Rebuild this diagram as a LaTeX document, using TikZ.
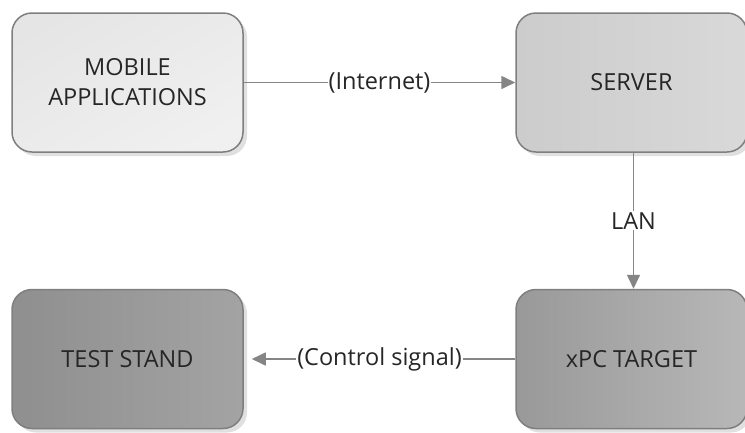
\documentclass[tikz,border=0pt]{standalone}
\usepackage{fontspec}
\setmainfont{Open Sans}
\usetikzlibrary{shadows,arrows.meta}
\definecolor{edgegray}{HTML}{7F7F7F}
\definecolor{linegray}{HTML}{858585}
\definecolor{txt}{HTML}{262626}
\tikzset{
  box/.style={draw=edgegray, line width=1.5pt, rounded corners=20pt,
    minimum width=231pt, minimum height=139pt, align=center,
    font=\fontsize{23.5}{30}\selectfont, text=txt,
    drop shadow={shadow xshift=4pt, shadow yshift=-4pt, fill=black, opacity=0.12}},
  conn/.style={draw=linegray, line width=1.6pt, -{Triangle[length=14pt,width=13pt]}},
  lbl/.style={fill=white, inner sep=1pt, font=\fontsize{23.5}{28}\selectfont, text=txt}
}
\begin{document}
\begin{tikzpicture}[x=1pt,y=1pt]
\useasboundingbox (0,0) rectangle (745,-432);
\node[box, top color=white!90!black, bottom color=white!94!black, shading angle=30] (mob) at (127.5,-82.5) {MOBILE\\APPLICATIONS};
\node[box, left color=white!80!black, right color=white!85!black] (srv) at (631.5,-82.5) {SERVER};
\node[box, left color=white!56!black, right color=white!64!black] (ts) at (127.5,-359) {TEST STAND};
\node[box, left color=white!60!black, right color=white!72!black] (xpc) at (631.5,-359) {xPC TARGET};
\draw[conn] (mob) -- node[lbl]{(Internet)} (srv);
\draw[conn] ([xshift=2pt]srv.south) -- node[lbl]{LAN} ([xshift=2pt]xpc.north);
\draw[conn, shorten >=8pt] (xpc) -- node[lbl]{(Control signal)} (ts);
\end{tikzpicture}
\end{document}
